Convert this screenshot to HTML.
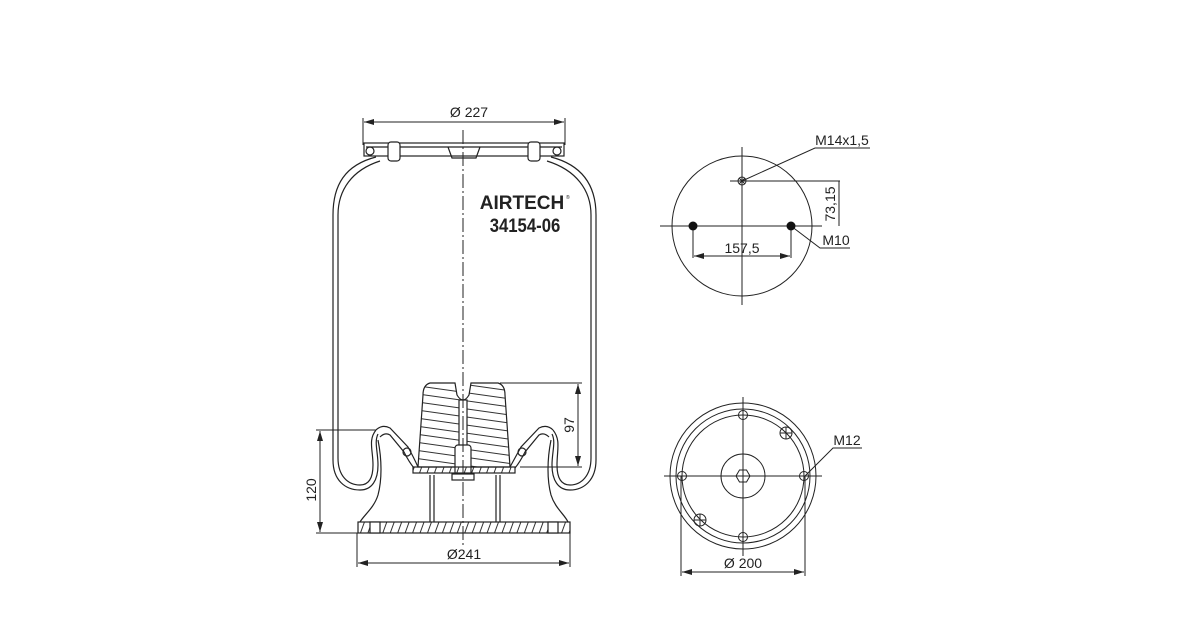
<!DOCTYPE html>
<html><head><meta charset="utf-8"><style>
html,body{margin:0;padding:0;background:#fff;}
svg{display:block;}
text{font-family:"Liberation Sans",sans-serif;fill:#222;}
</style></head><body>
<svg width="1200" height="630" viewBox="0 0 1200 630" xmlns="http://www.w3.org/2000/svg">
<defs>
<marker id="a" viewBox="0 0 10 6" refX="10" refY="3" markerWidth="10" markerHeight="6" orient="auto-start-reverse" markerUnits="userSpaceOnUse"><path d="M0,0 L10,3 L0,6 z" fill="#222"/></marker>
<pattern id="h" width="10" height="8" patternUnits="userSpaceOnUse" patternTransform="rotate(8)"><line x1="0" y1="4" x2="10" y2="4" stroke="#333" stroke-width="1"/></pattern>
<pattern id="v" width="7" height="10" patternUnits="userSpaceOnUse" patternTransform="rotate(20)"><line x1="3" y1="0" x2="3" y2="10" stroke="#333" stroke-width="1"/></pattern>
</defs>
<g fill="none" stroke="#222" stroke-width="1.2">
<!-- top plate -->
<rect x="364" y="143" width="200" height="13" fill="#fff"/>
<line x1="366" y1="147" x2="562" y2="147"/>
<path d="M448,147 L452,158 L476,158 L480,147" />
<rect x="388" y="142" width="12" height="19" rx="3" fill="#fff"/>
<rect x="528" y="142" width="12" height="19" rx="3" fill="#fff"/>
<circle cx="370" cy="151" r="4"/><circle cx="557" cy="151" r="4"/>
<!-- bellows outline (double) -->
<path d="M376,157 C345,165 333,185 333,215 L333,460 C333,480 345,490 360,490 C372,490 378,480 378,465 C378,452 374,442 378,434"/>
<path d="M380,161 C352,170 338,190 338,215 L338,458 C338,476 348,485 360,485 C370,485 373,476 373,465 C373,450 368,440 376,430"/>
<path d="M551,157 C582,165 596,185 596,215 L596,460 C596,480 584,490 570,490 C558,490 552,480 552,465 C552,452 556,442 552,434"/>
<path d="M547,161 C576,170 591,190 591,215 L591,458 C591,476 581,485 570,485 C560,485 557,476 557,465 C557,450 561,440 553,430"/>
<!-- bead lips -->
<path d="M376,430 Q382,424 390,428 L408,447 Q414,458 418,467"/>
<path d="M380,437 Q385,432 390,435 L404,452 Q409,462 414,468"/>
<path d="M553,430 Q547,424 539,428 L521,447 Q515,458 510,467"/>
<path d="M549,437 Q544,432 539,435 L525,452 Q520,462 515,468"/>
<circle cx="407" cy="452" r="4"/><circle cx="522" cy="452" r="4"/>
<!-- piston top -->
<path d="M430,383 L455,383 L457,395 Q463,405 469,395 L471,383 L498,383 Q505,385 505,395 L510,467 L418,467 L423,395 Q423,385 430,383 Z" fill="url(#h)"/>
<rect x="459" y="400" width="8" height="50" fill="#fff"/>
<rect x="455" y="445" width="16" height="30" rx="3" fill="#fff"/>
<rect x="452" y="474" width="22" height="6" fill="#fff"/>
<rect x="413" y="467" width="102" height="6" fill="url(#v)"/>
<!-- skirt -->
<path d="M378,440 C382,460 382,480 378,495 C374,508 364,515 360,522"/>
<path d="M551,440 C547,460 547,480 551,495 C555,508 565,515 568,522"/>
<line x1="430" y1="475" x2="430" y2="522"/><line x1="434" y1="475" x2="434" y2="522"/>
<line x1="496" y1="475" x2="496" y2="522"/><line x1="500" y1="475" x2="500" y2="522"/>
<rect x="358" y="522" width="212" height="11" fill="url(#v)"/>
<rect x="370" y="522" width="10" height="11" fill="#fff"/><rect x="548" y="522" width="10" height="11" fill="#fff"/>
</g>
<g stroke="#222" stroke-width="1" fill="none">
<line x1="463" y1="130" x2="463" y2="545" stroke-dasharray="14,3,2,3"/>
<line x1="363" y1="118" x2="363" y2="145"/><line x1="565" y1="118" x2="565" y2="145"/>
<line x1="364" y1="122" x2="564" y2="122" marker-start="url(#a)" marker-end="url(#a)"/>
<line x1="500" y1="383" x2="582" y2="383"/><line x1="520" y1="467" x2="582" y2="467"/>
<line x1="578" y1="384" x2="578" y2="466" marker-start="url(#a)" marker-end="url(#a)"/>
<line x1="316" y1="430" x2="376" y2="430"/><line x1="316" y1="533" x2="358" y2="533"/>
<line x1="320" y1="431" x2="320" y2="532" marker-start="url(#a)" marker-end="url(#a)"/>
<line x1="357" y1="533" x2="357" y2="567"/><line x1="570" y1="533" x2="570" y2="567"/>
<line x1="358" y1="563" x2="569" y2="563" marker-start="url(#a)" marker-end="url(#a)"/>
<circle cx="742" cy="226" r="70"/>
<line x1="660" y1="226" x2="822" y2="226"/><line x1="742" y1="147" x2="742" y2="305"/>
<circle cx="742" cy="181" r="4"/><line x1="739" y1="178" x2="745" y2="184"/><line x1="745" y1="178" x2="739" y2="184"/>
<line x1="730" y1="181" x2="840" y2="181"/><line x1="839" y1="181" x2="839" y2="226"/>
<line x1="693" y1="226" x2="693" y2="258"/><line x1="791" y1="226" x2="791" y2="258"/>
<line x1="694" y1="256" x2="790" y2="256" marker-start="url(#a)" marker-end="url(#a)"/>
<polyline points="742,181 815,148 870,148"/>
<polyline points="791,226 820,248 850,248"/>
<circle cx="743" cy="476" r="73"/><circle cx="743" cy="476" r="67"/><circle cx="743" cy="476" r="61"/>
<circle cx="743" cy="476" r="22"/>
<polygon points="750,476 746.5,482 739.5,482 736,476 739.5,470 746.5,470"/>
<line x1="664" y1="476" x2="822" y2="476"/><line x1="743" y1="397" x2="743" y2="556"/>
<circle cx="743" cy="415" r="4.5"/><circle cx="743" cy="537" r="4.5"/><circle cx="682" cy="476" r="4.5"/><circle cx="804" cy="476" r="4.5"/>
<circle cx="786" cy="433" r="6"/><line x1="780" y1="433" x2="792" y2="433"/><line x1="786" y1="427" x2="786" y2="439"/>
<circle cx="700" cy="520" r="6"/><line x1="694" y1="520" x2="706" y2="520"/><line x1="700" y1="514" x2="700" y2="526"/>
<line x1="681" y1="476" x2="681" y2="576"/><line x1="805" y1="476" x2="805" y2="576"/>
<line x1="682" y1="572" x2="804" y2="572" marker-start="url(#a)" marker-end="url(#a)"/>
<polyline points="805,476 833,448 862,448"/>
</g>
<circle cx="693" cy="226" r="4.5" fill="#111"/><circle cx="791" cy="226" r="4.5" fill="#111"/>
<text x="469" y="117" font-size="14" text-anchor="middle">Ø 227</text>
<text x="522" y="209" font-size="19" font-weight="bold" text-anchor="middle" fill="#111">AIRTECH</text>
<text x="566" y="199" font-size="5">®</text>
<text x="525" y="232" font-size="19" font-weight="bold" text-anchor="middle" transform="translate(525 0) scale(0.88 1) translate(-525 0)" fill="#111">34154-06</text>
<text x="464" y="559" font-size="14" text-anchor="middle">Ø241</text>
<text transform="translate(574 425) rotate(-90)" font-size="14" text-anchor="middle">97</text>
<text transform="translate(316 490) rotate(-90)" font-size="14" text-anchor="middle">120</text>
<text x="842" y="145" font-size="14" text-anchor="middle">M14x1,5</text>
<text transform="translate(835 204) rotate(-90)" font-size="14" text-anchor="middle">73,15</text>
<text x="742" y="253" font-size="14" text-anchor="middle">157,5</text>
<text x="836" y="245" font-size="14" text-anchor="middle">M10</text>
<text x="847" y="445" font-size="14" text-anchor="middle">M12</text>
<text x="743" y="568" font-size="14" text-anchor="middle">Ø 200</text>
</svg>
</body></html>
